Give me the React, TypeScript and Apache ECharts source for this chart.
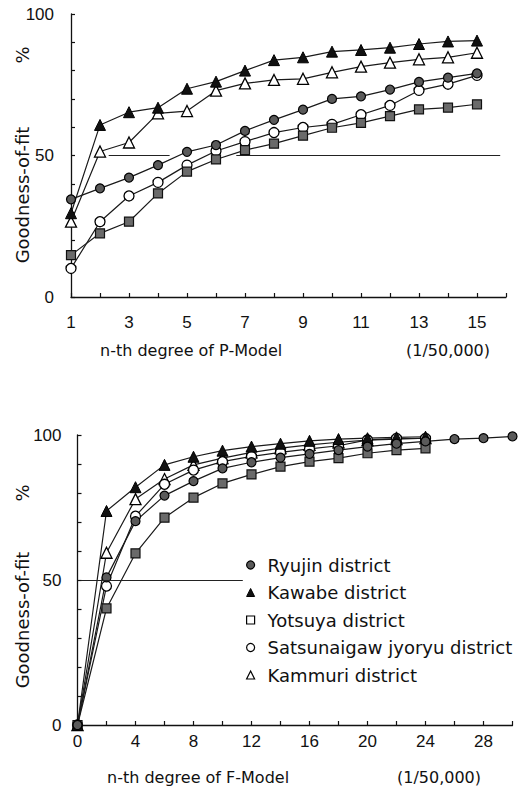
import React, { useEffect, useRef } from "react";
import * as echarts from "echarts";

// ---------- Data ----------
const seriesNames = [
  "Ryujin district",
  "Kawabe district",
  "Yotsuya district",
  "Satsunaigaw jyoryu district",
  "Kammuri district",
];

// P-Model (top)
const degreeP = [1, 2, 3, 4, 5, 6, 7, 8, 9, 10, 11, 12, 13, 14, 15];
const ryujinP = [34.5, 38.4, 42.2, 46.6, 51.3, 53.7, 58.7, 62.6, 66.2, 70.0, 70.9, 73.3, 76.0, 77.5, 79.0];
const kawabeP = [29.6, 60.8, 65.3, 66.9, 73.6, 76.1, 80.0, 83.7, 84.7, 86.7, 87.3, 88.1, 89.4, 90.3, 90.6];
const yotsuyaP = [14.8, 22.5, 26.6, 36.6, 44.3, 48.6, 51.9, 54.2, 57.0, 59.8, 61.5, 63.9, 66.3, 66.9, 68.1];
const satsuP = [10.1, 26.6, 35.7, 40.5, 46.6, 51.6, 54.9, 58.1, 59.9, 61.0, 64.4, 67.7, 73.0, 75.2, 78.3];
const kammuriP = [26.6, 51.4, 54.6, 64.9, 65.7, 72.9, 75.5, 76.7, 77.1, 79.4, 81.4, 82.8, 84.0, 84.7, 86.3];
const refLineP = [[2.3, 4.4], [6.7, 15.8]];

// F-Model (bottom)
const degreeF = [0, 2, 4, 6, 8, 10, 12, 14, 16, 18, 20, 22, 24, 26, 28, 30];
const ryujinF = [0, 50.9, 70.3, 79.1, 84.1, 88.5, 90.6, 92.2, 93.5, 94.8, 96.0, 97.0, 97.8, 98.6, 98.9, 99.5];
const kawabeF = [0, 73.8, 82.0, 89.7, 92.5, 94.6, 96.0, 97.0, 98.0, 98.6, 98.9, 99.2, 99.4];
const yotsuyaF = [0, 40.2, 59.2, 71.5, 78.4, 83.3, 86.4, 89.1, 90.8, 92.0, 93.7, 94.8, 95.4];
const satsuF = [0, 47.9, 72.0, 83.0, 87.9, 90.8, 92.6, 94.0, 95.2, 96.3, 98.3, 98.8, 98.8];
const kammuriF = [0, 59.4, 77.9, 84.8, 89.7, 92.0, 94.0, 95.5, 96.6, 97.5, 98.2, 98.6, 98.9];
const refLineF = [[0.2, 11.4]];

const yTicks = [0, 50, 100];
const xLabelsP = [1, 3, 5, 7, 9, 11, 13, 15];
const xLabelsF = [0, 4, 8, 12, 16, 20, 24, 28];

// ---------- Styles ----------
const LINE = "#1a1a1a";
const markerStyles = [
  { symbol: "circle", size: 9, itemStyle: { color: "#5a5a5a", borderColor: "#000", borderWidth: 1.2 } },
  { symbol: "triangle", size: 11, itemStyle: { color: "#111", borderColor: "#000", borderWidth: 1 } },
  { symbol: "rect", size: 9, itemStyle: { color: "#6a6a6a", borderColor: "#111", borderWidth: 1.2 } },
  { symbol: "circle", size: 10, itemStyle: { color: "#fff", borderColor: "#000", borderWidth: 1.3 } },
  { symbol: "triangle", size: 11, itemStyle: { color: "#fff", borderColor: "#000", borderWidth: 1.3 } },
];
const legendStyles = [
  { icon: "circle", itemStyle: { color: "#5a5a5a", borderColor: "#000", borderWidth: 1.2 } },
  { icon: "triangle", itemStyle: { color: "#111", borderColor: "#000", borderWidth: 1 } },
  { icon: "rect", itemStyle: { color: "#fff", borderColor: "#000", borderWidth: 1.2 } },
  { icon: "circle", itemStyle: { color: "#fff", borderColor: "#000", borderWidth: 1.2 } },
  { icon: "triangle", itemStyle: { color: "#fff", borderColor: "#000", borderWidth: 1.2 } },
];

const TICK_FONT = "Liberation Sans";
const TEXT_FONT = "DejaVu Sans";

function makeAxisCommon() {
  return {
    axisLine: { show: true, onZero: false, lineStyle: { color: "#111", width: 1.3 } },
    axisTick: { show: true, inside: true, length: 4, lineStyle: { color: "#111", width: 1.2 } },
    splitLine: { show: false },
  };
}

export default function App() {
  const ref = useRef<HTMLDivElement>(null);
  useEffect(() => {
    if (!ref.current) return;
    const chart = echarts.init(ref.current, undefined, { renderer: "svg" });

    const topData = [ryujinP, kawabeP, yotsuyaP, satsuP, kammuriP];
    const botData = [ryujinF, kawabeF, yotsuyaF, satsuF, kammuriF];

    const series: any[] = [];
    const order = [4, 3, 2, 1, 0];
    order.forEach((i) => {
      const m = markerStyles[i];
      series.push({
        name: seriesNames[i],
        type: "line",
        xAxisIndex: 0,
        yAxisIndex: 0,
        data: topData[i].map((v, k) => [degreeP[k], v]),
        symbol: m.symbol,
        symbolSize: m.size,
        itemStyle: m.itemStyle,
        lineStyle: { color: LINE, width: 1.2 },
        z: 3,
      });
    });
    order.forEach((i) => {
      const m = markerStyles[i];
      series.push({
        name: seriesNames[i],
        type: "line",
        xAxisIndex: 1,
        yAxisIndex: 1,
        data: botData[i].map((v, k) => [degreeF[k], v]),
        symbol: m.symbol,
        symbolSize: m.size,
        itemStyle: m.itemStyle,
        lineStyle: { color: LINE, width: 1.2 },
        z: 3,
      });
    });
    series.push({
      type: "line",
      xAxisIndex: 0,
      yAxisIndex: 0,
      data: [],
      silent: true,
      markLine: {
        symbol: "none",
        silent: true,
        label: { show: false },
        lineStyle: { color: "#222", width: 1.2, type: "solid" },
        data: refLineP.map(([a, b]) => [{ coord: [a, 50] }, { coord: [b, 50] }]),
      },
    });
    series.push({
      type: "line",
      xAxisIndex: 1,
      yAxisIndex: 1,
      data: [],
      silent: true,
      markLine: {
        symbol: "none",
        silent: true,
        label: { show: false },
        lineStyle: { color: "#222", width: 1.2, type: "solid" },
        data: refLineF.map(([a, b]) => [{ coord: [a, 50] }, { coord: [b, 50] }]),
      },
    });

    const tickLabel = { fontFamily: TICK_FONT, fontSize: 17, color: "#111" };

    chart.setOption({
      animation: false,
      backgroundColor: "#fff",
      grid: [
        { left: 71, top: 14, width: 435, height: 283 },
        { left: 77.5, top: 435, width: 435, height: 290 },
      ],
      xAxis: [
        {
          type: "value",
          gridIndex: 0,
          min: 1,
          max: 16,
          interval: 1,
          ...makeAxisCommon(),
          axisLabel: {
            ...tickLabel,
            margin: 17,
            formatter: (v: number) => (xLabelsP.includes(v) ? String(v) : ""),
          },
        },
        {
          type: "value",
          gridIndex: 1,
          min: 0,
          max: 30,
          interval: 2,
          ...makeAxisCommon(),
          axisLabel: {
            ...tickLabel,
            margin: 8,
            formatter: (v: number) => (xLabelsF.includes(v) ? String(v) : ""),
          },
        },
      ],
      yAxis: [
        {
          type: "value",
          gridIndex: 0,
          min: 0,
          max: 100,
          interval: 10,
          ...makeAxisCommon(),
          axisLabel: {
            ...tickLabel,
            margin: 17,
            formatter: (v: number) => (yTicks.includes(v) ? String(v) : ""),
          },
        },
        {
          type: "value",
          gridIndex: 1,
          min: 0,
          max: 100,
          interval: 10,
          ...makeAxisCommon(),
          axisLabel: {
            ...tickLabel,
            margin: 16,
            formatter: (v: number) => (yTicks.includes(v) ? String(v) : ""),
          },
        },
      ],
      legend: {
        orient: "vertical",
        left: 241,
        top: 551,
        itemWidth: 8,
        itemHeight: 8,
        itemGap: 9.5,
        selectedMode: false,
        textStyle: {
          fontFamily: TEXT_FONT,
          fontSize: 18,
          lineHeight: 18,
          color: "#111",
          padding: [0, 0, 0, 8],
        },
        data: seriesNames.map((n, i) => ({ name: n, ...legendStyles[i] })),
      },
      graphic: [
        {
          type: "text",
          x: 22,
          y: 55,
          rotation: Math.PI / 2,
          style: { text: "%", font: `18px '${TEXT_FONT}'`, fill: "#111", align: "center", verticalAlign: "middle" },
        },
        {
          type: "text",
          x: 22,
          y: 195,
          rotation: Math.PI / 2,
          style: { text: "Goodness-of-fit", font: `18px '${TEXT_FONT}'`, fill: "#111", align: "center", verticalAlign: "middle" },
        },
        {
          type: "text",
          x: 100,
          y: 350,
          style: { text: "n-th degree of P-Model", font: `16px '${TEXT_FONT}'`, fill: "#111", align: "left", verticalAlign: "middle" },
        },
        {
          type: "text",
          x: 406,
          y: 350,
          style: { text: "(1/50,000)", font: `16px '${TEXT_FONT}'`, fill: "#111", align: "left", verticalAlign: "middle" },
        },
        {
          type: "text",
          x: 22,
          y: 493,
          rotation: Math.PI / 2,
          style: { text: "%", font: `18px '${TEXT_FONT}'`, fill: "#111", align: "center", verticalAlign: "middle" },
        },
        {
          type: "text",
          x: 22,
          y: 620,
          rotation: Math.PI / 2,
          style: { text: "Goodness-of-fit", font: `18px '${TEXT_FONT}'`, fill: "#111", align: "center", verticalAlign: "middle" },
        },
        {
          type: "text",
          x: 107,
          y: 777,
          style: { text: "n-th degree of F-Model", font: `16px '${TEXT_FONT}'`, fill: "#111", align: "left", verticalAlign: "middle" },
        },
        {
          type: "text",
          x: 397,
          y: 777,
          style: { text: "(1/50,000)", font: `16px '${TEXT_FONT}'`, fill: "#111", align: "left", verticalAlign: "middle" },
        },
      ],
      series,
    });

    return () => chart.dispose();
  }, []);

  return (
    <div
      ref={ref}
      style={{ position: "absolute", left: 0, top: 0, width: 527, height: 796, background: "#fff" }}
    />
  );
}
